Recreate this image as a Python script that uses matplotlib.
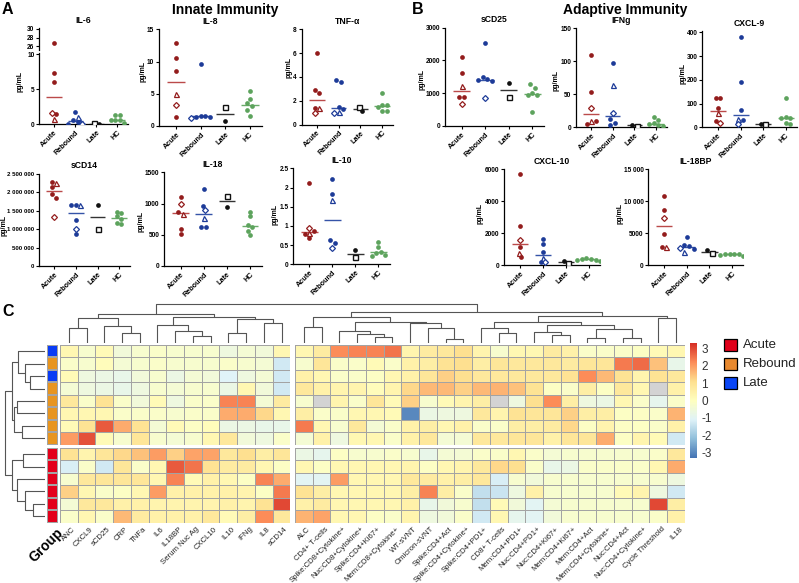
import numpy as np
import matplotlib
matplotlib.use("Agg")
import matplotlib.pyplot as plt
import matplotlib.ticker as mticker
from matplotlib.colors import LinearSegmentedColormap, ListedColormap
from matplotlib.patches import Rectangle

plt.rcParams['font.family'] = ['Liberation Sans', 'DejaVu Sans']

# ------------------------------------------------------------------ data
GROUPS = ["Acute", "Rebound", "Late", "HC"]
# shape codes: o filled circle, d open diamond, t open triangle, s open square

IL6 = {"Acute": [26.7, 7.35, 6.1, 1.57, 1.45, 0.75], "Rebound": [1.7, 1.1, 0.6, 0.35, 0.1, 0.08],
       "Late": [0.12, 0.1], "HC": [1.3, 1.3, 0.65, 0.6, 0.6, 0.2]}
IL6_SHAPES = {"Acute": "ooodot", "Rebound": "otoodo", "Late": "so", "HC": "oooooo"}

IL8 = {"Acute": [12.8, 10.5, 8.6, 4.9, 3.25, 1.45], "Rebound": [9.55, 1.55, 1.5, 1.45, 1.4, 1.25],
       "Late": [3.0, 0.8], "HC": [5.4, 4.2, 3.5, 3.1, 2.5, 1.6]}
IL8_SHAPES = {"Acute": "oootdo", "Rebound": "oooood", "Late": "so", "HC": "oooooo"}

TNFA = {"Acute": [5.98, 2.9, 2.67, 1.38, 1.36, 1.0], "Rebound": [3.7, 3.6, 1.5, 1.3, 1.05, 1.0],
        "Late": [1.45, 1.1], "HC": [2.65, 1.65, 1.6, 1.5, 1.15, 1.1]}
TNFA_SHAPES = {"Acute": "ooootd", "Rebound": "ooootd", "Late": "so", "HC": "oooooo"}

SCD14 = {"Acute": [2280000, 2260000, 2150000, 1950000, 1850000, 1340000],
         "Rebound": [1650000, 1650000, 1650000, 1240000, 1000000, 870000],
         "Late": [1650000, 1000000], "HC": [1480000, 1450000, 1350000, 1280000, 1180000, 1150000]}
SCD14_SHAPES = {"Acute": "otoood", "Rebound": "otoodo", "Late": "os", "HC": "oooooo"}

IL18 = {"Acute": [1110, 995, 870, 830, 600, 520], "Rebound": [1225, 960, 900, 770, 620, 620],
        "Late": [1120, 950], "HC": [870, 800, 660, 620, 560, 500]}
IL18_SHAPES = {"Acute": "odotoo", "Rebound": "oodtoo", "Late": "so", "HC": "oooooo"}

IL10 = {"Acute": [2.12, 0.95, 0.87, 0.81, 0.78, 0.68], "Rebound": [2.22, 1.82, 1.67, 0.63, 0.56, 0.42],
        "Late": [0.38, 0.18], "HC": [0.57, 0.44, 0.33, 0.30, 0.25, 0.22]}
IL10_SHAPES = {"Acute": "odotoo", "Rebound": "ootood", "Late": "os", "HC": "oooooo"}

SCD25 = {"Acute": [2094, 1616, 1229, 880, 870, 680], "Rebound": [2520, 1500, 1430, 1400, 1380, 860],
         "Late": [1300, 893], "HC": [1280, 1170, 1000, 960, 950, 440]}
SCD25_SHAPES = {"Acute": "ootood", "Rebound": "oooood", "Late": "os", "HC": "oooooo"}

IFNG = {"Acute": [109.5, 53, 30, 10, 9, 5], "Rebound": [97, 64, 21, 12, 7, 3.5],
        "Late": [2, 3.5], "HC": [15, 11, 6, 4.5, 3, 2]}
IFNG_SHAPES = {"Acute": "oodtoo", "Rebound": "otdooo", "Late": "so", "HC": "oooooo"}

CXCL9 = {"Acute": [122, 122, 80, 59, 28, 17], "Rebound": [379, 189, 72, 35, 30, 13],
         "Late": [12, 13], "HC": [125, 42, 40, 38, 20, 15]}
CXCL9_SHAPES = {"Acute": "oootod", "Rebound": "oootod", "Late": "so", "HC": "oooooo"}

CXCL10 = {"Acute": [5690, 2456, 1581, 1125, 790, 520], "Rebound": [1650, 1300, 800, 480, 220, 200],
          "Late": [130, 290], "HC": [450, 420, 400, 350, 300, 280]}
CXCL10_SHAPES = {"Acute": "oodoto", "Rebound": "oootdo", "Late": "so", "HC": "oooooo"}

IL18BP = {"Acute": [10830, 8640, 7440, 4890, 2810, 2810], "Rebound": [4470, 3200, 3000, 2700, 2550, 2100],
          "Late": [1875, 2390], "HC": [1800, 1750, 1750, 1700, 1650, 1400]}
IL18BP_SHAPES = {"Acute": "oodoot", "Rebound": "ooodot", "Late": "so", "HC": "oooooo"}

# heatmap
HM_COLS_LEFT = ["ANC", "CXCL9", "sCD25", "CRP", "TNFa", "IL6", "IL18BP", "Serum Nuc Ag",
                "CXCL10", "IL10", "IFNg", "IL8", "sCD14"]
HM_COLS_RIGHT = ["ALC", "CD4+ T-cells", "Spike:CD8+Cytokine+", "Nuc:CD8+Cytokine+", "Spike:CD4+Ki67+",
                 "Mem:CD8+Cytokine+", "WT-sVNT", "Omicron-sVNT", "Spike:CD4+Act", "Spike:CD4+Cytokine+",
                 "Spike:CD4+PD1+", "CD8+ T-cells", "Mem:CD4+PD1+", "Nuc:CD4+PD1+", "Nuc:CD4+Ki67+",
                 "Mem:CD4+Ki67+", "Mem:CD4+Act", "Mem:CD4+Cytokine+", "Nuc:CD4+Act", "Nuc:CD4+Cytokine+",
                 "Cycle Threshold", "IL18"]
ROW_GROUPS = ["Late", "Rebound", "Late", "Rebound", "Rebound", "Rebound", "Rebound", "Rebound",
              "Acute", "Acute", "Acute", "Acute", "Acute", "Acute"]
nan = np.nan
HM_LEFT = [
    [0.3, -0.3, 0.2, -0.5, -0.3, -0.2, -0.3, -0.3, -0.3, -0.6, -0.4, -0.5, 0.3],
    [-0.2, -0.3, 0.1, -0.4, -0.3, -0.2, -0.3, -0.3, -0.3, -0.2, -0.3, -0.4, -1.3],
    [0.2, -0.6, -0.7, -0.8, -0.5, -0.3, -0.7, -0.4, -0.5, -1.1, -0.6, -0.4, -1.3],
    [-0.4, -0.6, -0.7, -0.8, -0.6, -0.3, -0.4, -0.3, -0.3, -0.7, 0.3, -0.5, -1.3],
    [0.8, -0.2, 1.0, -0.2, -0.5, 0.2, -0.6, -0.2, -0.2, 2.3, 2.3, -0.4, 0.7],
    [0.3, 0.3, 0.3, -0.2, -0.2, -0.2, -0.3, -0.2, -0.2, 1.8, 1.8, 1.2, 0.3],
    [0.2, 1.0, 2.8, 1.8, 1.0, -0.4, 0.2, -0.1, 0.1, -0.7, -0.7, -0.8, -0.8],
    [2.0, 2.9, 0.2, -0.3, 0.9, -0.3, -0.4, -0.3, 0.3, 0.8, -0.5, -0.6, -0.2],
    [1.0, 0.4, 0.9, 1.2, 1.5, 2.0, 1.3, 1.9, 1.9, 0.8, 1.1, 0.6, 0.9],
    [-1.2, -0.2, -1.3, 0.9, -0.2, 0.3, 2.8, 2.5, 1.0, 0.7, 0.7, 0.3, -0.1],
    [-0.3, 0.8, 0.9, 0.9, 0.9, 0.3, 2.3, 0.2, 0.5, 0.3, -0.1, 2.3, 1.8],
    [1.3, 0.3, -0.2, -0.1, 0.3, 2.0, 0.5, 0.5, 0.5, 0.5, 0.4, -0.1, 2.4],
    [-0.4, 0.8, 0.8, 0.5, 0.5, 0.4, 0.4, 0.4, 0.4, 0.5, 0.4, 1.0, 3.0],
    [-0.2, 0.3, -0.2, 1.6, 0.7, 0.5, 0.5, 0.5, 0.8, 0.2, 0.6, 2.2, 0.8],
]
HM_RIGHT = [
    [0.3, 0.7, 2.2, 2.3, 2.3, 2.5, 0.4, 0.7, 0.8, 1.1, 0.4, -0.3, 0.3, 0.3, 0.7, 0.5, -0.2, -0.2, -0.2, -0.1, 0.2, 0.3],
    [-0.3, 0.9, -0.2, -0.2, 0.2, -0.2, 0.5, 0.6, 1.0, 1.1, 0.6, 0.9, 0.8, 0.8, 0.8, 0.7, 0.9, 0.9, 2.4, 2.6, 1.5, -0.8],
    [0.5, 0.3, -0.2, -0.2, -0.1, 0.3, 0.5, 0.9, 1.3, 1.1, 0.8, 0.8, 0.8, 0.8, 0.8, 1.0, 2.2, 1.6, 1.0, 0.4, 1.0, 0.8],
    [0.8, 0.5, 0.4, 0.4, 0.1, 0.4, 1.2, 1.6, 1.6, 1.3, 1.6, 1.7, 1.5, 1.0, -0.1, -0.2, 0.6, -0.1, 0.8, 0.3, nan, 0.5],
    [-0.3, nan, 0.4, -0.2, 0.9, 0.2, 1.3, -0.3, 0.2, 0.4, 0.6, nan, -0.6, 1.1, 2.2, 0.6, -0.6, -0.7, 0.3, -0.2, -0.9, -0.2],
    [0.6, -0.2, -0.2, 0.3, 0.3, 0.2, -3.0, -0.7, -0.6, -0.6, 0.8, 0.4, 1.0, 0.9, 0.9, 1.3, 0.6, 0.6, -0.1, -0.1, -0.2, 1.7],
    [2.4, 0.3, -0.3, 0.8, -0.4, -0.2, 0.5, 0.6, 0.3, 0.5, -0.2, -0.2, 0.6, 0.6, 0.7, 1.2, -0.1, 0.4, -0.1, -0.1, -0.2, 0.5],
    [-0.4, 0.5, -0.6, 0.3, 0.3, -0.2, 0.5, 0.8, -0.4, -0.4, 0.8, 0.8, 0.9, 0.9, 0.5, 0.9, 0.9, 1.8, -0.1, 0.4, 0.2, -1.3],
    [-0.7, -0.9, -0.1, -0.3, -0.3, -0.2, -0.3, -0.8, -0.4, -0.4, -0.2, -0.2, 0.3, -0.2, -0.4, -0.3, -0.3, -0.3, -0.3, -0.3, -0.2, 0.8],
    [0.3, -0.1, 0.3, 0.3, 0.3, 0.3, 0.4, -0.1, 0.3, 0.4, 0.8, 1.2, 1.1, -0.2, -0.8, -0.7, -0.2, -0.2, -0.2, -0.2, 0.3, 1.8],
    [-1.0, -1.0, 2.0, 0.3, 0.3, 0.3, 0.8, 0.7, 0.5, 0.6, 0.8, -1.2, -0.3, -0.5, -0.3, -0.3, -0.3, -0.3, -0.3, -0.3, -0.3, -0.6],
    [1.0, 0.6, 0.3, 0.3, 0.3, 0.3, 0.6, 2.3, 0.6, -0.2, -1.5, -1.4, -0.6, 0.5, -0.3, -0.3, -0.3, -0.3, 0.2, 0.4, -0.6, -1.3],
    [0.5, 0.7, 0.3, 0.3, 0.3, 0.3, 0.5, -0.8, -0.5, -0.3, -1.5, 0.2, -0.5, -1.0, -0.4, -0.3, -0.3, -0.3, -0.3, -0.3, 3.0, 0.6],
    [1.7, 1.9, 0.3, 0.3, -0.1, -0.2, 0.4, -0.6, -0.5, -0.2, -1.3, 0.3, -0.9, -1.0, -0.5, -0.3, -0.3, -0.3, -0.3, -0.3, -0.2, 0.5],
]
# dendrogram merges: (node a, node b, merge height); leaves are 0..n-1, merge k creates node n+k
COL_MERGES = [
    (0, 1, 14.7), (3, 4, 10.3), (2, 36, 17.0), (35, 37, 24.7),
    (7, 8, 7.0), (6, 39, 12.3), (5, 40, 18.0),
    (9, 10, 10.3), (11, 12, 19.7), (42, 43, 23.7),
    (41, 44, 25.7), (38, 45, 29.0),
    (13, 14, 15.7), (17, 18, 5.7), (16, 48, 8.7), (15, 49, 12.0),
    (21, 22, 3.7), (20, 51, 14.7), (19, 52, 19.7), (50, 53, 20.7), (47, 54, 25.7),
    (24, 25, 10.3), (23, 56, 14.7), (27, 28, 8.0), (26, 58, 11.3),
    (29, 30, 4.7), (31, 32, 5.3), (60, 61, 13.7), (59, 62, 18.0), (57, 63, 21.3),
    (33, 34, 24.7), (64, 65, 27.0), (55, 66, 31.3),
    (46, 67, 39.0),
]
ROW_MERGES = [
    (2, 3, 15), (1, 14, 20), (0, 15, 27), (4, 5, 28), (6, 7, 23), (17, 18, 31), (16, 19, 33.3),
    (12, 13, 12), (11, 21, 20), (10, 22, 28), (8, 9, 22), (24, 23, 33), (20, 25, 40),
]

# ------------------------------------------------------------------ style
W, H = 799.0, 583.0
fig = plt.figure(figsize=(W / 100, H / 100), dpi=100)


def rect(l, t, r, b):
    return [l / W, 1 - b / H, (r - l) / W, (b - t) / H]


PT_COL = {"Acute": "#931c1c", "Rebound": "#1d3b98", "Late": "#111111", "HC": "#5da35d"}
MED_COL = {"Acute": "#bb4a4a", "Rebound": "#3553a8", "Late": "#333333", "HC": "#6aab6a"}
TICK_FS = 4.7
LABELS = []  # (axis, left px, right px, bottom px, top px, wanted label x, wanted label y)


def fmt_num(v, pos=None):
    if abs(v - round(v)) < 1e-9:
        v = int(round(v))
        if v >= 10000:
            return "{:,}".format(v).replace(",", " ")
        return str(v)
    return "{:.1f}".format(v)


def swarm(ypx, diam):
    n = len(ypx)
    order = np.argsort(-ypx)
    offs = np.zeros(n)
    placed = []
    cands = [0.0]
    for k in range(1, 14):
        cands += [k * 0.5 * diam, -k * 0.5 * diam]
    for i in order:
        for c in cands:
            ok = all((c - offs[j]) ** 2 + (ypx[i] - ypx[j]) ** 2 >= (0.95 * diam) ** 2 for j in placed)
            if ok:
                offs[i] = c
                break
        placed.append(i)
    srt = np.argsort(-ypx)
    clusters, cur = [], [srt[0]]
    for a, b in zip(srt[:-1], srt[1:]):
        if ypx[a] - ypx[b] < 0.95 * diam:
            cur.append(b)
        else:
            clusters.append(cur)
            cur = [b]
    clusters.append(cur)
    for cl in clusters:
        m = (offs[cl].max() + offs[cl].min()) / 2
        offs[cl] -= m
    return offs


def style_axes(ax, fs=TICK_FS):
    for s in ("top", "right"):
        ax.spines[s].set_visible(False)
    for s in ("left", "bottom"):
        ax.spines[s].set_linewidth(0.9)
    ax.tick_params(axis="both", length=2.5, width=0.8, pad=1.0)
    ax.tick_params(axis="y", labelsize=fs)
    for lab in ax.get_yticklabels():
        lab.set_fontweight("bold")


def draw_points(axes_list, data, shapes, to_px, px_per_x, xlo=-0.7, xhi=3.5):
    for gi, g in enumerate(GROUPS):
        vals = np.array(data[g], float)
        ypx = np.array([to_px(v) for v in vals])
        offs = swarm(ypx, 4.6) / px_per_x
        col = PT_COL[g]
        med = np.median(vals)
        for ax in axes_list:
            for v, s, o in zip(vals, shapes[g], offs):
                kw = dict(color=col, clip_on=True, zorder=4, linestyle="none")
                if s == "o":
                    ax.plot(gi + o, v, marker="o", ms=3.4, mew=0, **kw)
                elif s == "d":
                    ax.plot(gi + o, v, marker="D", ms=3.0, mfc="white", mew=0.9, **kw)
                elif s == "t":
                    ax.plot(gi + o, v, marker="^", ms=3.6, mfc="white", mew=0.9, **kw)
                elif s == "s":
                    ax.plot(gi + o, v, marker="s", ms=3.6, mfc="white", mew=1.0, **kw)
            ax.plot([gi - 0.36, gi + 0.36], [med, med], color=MED_COL[g], lw=1.0, zorder=3,
                    solid_capstyle="butt")
        for ax in axes_list:
            ax.set_xlim(xlo, xhi)


def set_xcats(ax):
    ax.set_xticks(range(len(GROUPS)))
    ax.set_xticklabels(GROUPS, rotation=45, ha="right", rotation_mode="anchor", fontsize=5.2,
                       fontweight="bold")


def scatter_panel(title, data, shapes, l, r, y0, ytop, ymax, yticks, lab_x, lab_y, fs=TICK_FS):
    ax = fig.add_axes(rect(l, ytop, r, y0))
    ax.set_ylim(0, ymax)
    ppy = (y0 - ytop) / ymax
    ppx = (r - l) / 4.2
    draw_points([ax], data, shapes, lambda v: v * ppy, ppx)
    ax.set_yticks(yticks)
    ax.yaxis.set_major_formatter(mticker.FuncFormatter(fmt_num))
    set_xcats(ax)
    style_axes(ax, fs)
    ax.set_ylabel("pg/mL", fontsize=5.0, fontweight="bold", va="center")
    LABELS.append((ax, l, r, y0, ytop, lab_x, lab_y))
    ax.set_title(title, fontsize=6.2, fontweight="bold", pad=4)
    return ax


# ---- IL-6 with broken axis
l, r = 39.3, 128
ax_lo = fig.add_axes(rect(l, 52.5, r, 124.3))
ax_hi = fig.add_axes(rect(l, 28.3, r, 49.5))
ax_lo.set_ylim(0, 10.26)
ax_hi.set_ylim(25.3, 30.1)
ppx6 = (r - l) / 4.2


def il6_px(v):
    return v * 7.0 if v <= 10.26 else 75.8 + (v - 25.3) * 4.5


draw_points([ax_lo, ax_hi], IL6, IL6_SHAPES, il6_px, ppx6)
ax_lo.set_yticks([0, 5, 10])
ax_hi.set_yticks([26, 28, 30])
for a in (ax_lo, ax_hi):
    a.yaxis.set_major_formatter(mticker.FuncFormatter(fmt_num))
set_xcats(ax_lo)
style_axes(ax_lo)
style_axes(ax_hi)
ax_hi.spines["bottom"].set_visible(False)
ax_hi.set_xticks([])
ax_lo.set_ylabel("pg/mL", fontsize=5.0, fontweight="bold", va="center")
LABELS.append((ax_lo, l, r, 124.3, 52.5, 20.5, 81.5))
ax_hi.set_title("IL-6", fontsize=6.2, fontweight="bold", pad=4)

scatter_panel("IL-8", IL8, IL8_SHAPES, 159, 262, 126, 29.3, 15, [0, 5, 10, 15], 147.5, 71.5)
scatter_panel("TNF-α", TNFA, TNFA_SHAPES, 301.7, 393, 124.5, 29.3, 8, [0, 2, 4, 6, 8], 294.5, 68)
scatter_panel("sCD14", SCD14, SCD14_SHAPES, 39, 130, 266, 174, 2500000,
              [0, 500000, 1000000, 1500000, 2000000, 2500000], 5.5, 225, fs=4.4)
scatter_panel("IL-18", IL18, IL18_SHAPES, 164.3, 261.7, 266, 172.3, 1500, [0, 500, 1000, 1500], 145, 221)
scatter_panel("IL-10", IL10, IL10_SHAPES, 293.3, 390, 264.3, 168.3, 2.5, [0, 0.5, 1.0, 1.5, 2.0, 2.5],
              281.5, 214.5)
scatter_panel("sCD25", SCD25, SCD25_SHAPES, 445, 544, 126, 27.7, 3000, [0, 1000, 2000, 3000], 428.5, 79)
scatter_panel("IFNg", IFNG, IFNG_SHAPES, 576, 666.7, 127.3, 28.3, 150, [0, 50, 100, 150], 562, 80)
scatter_panel("CXCL-9", CXCL9, CXCL9_SHAPES, 702.3, 797, 127.3, 31.1, 405, [0, 100, 200, 300, 400],
              684.5, 73)
scatter_panel("CXCL-10", CXCL10, CXCL10_SHAPES, 504.3, 600, 265.3, 169.3, 6000, [0, 2000, 4000, 6000],
              480.5, 214)
scatter_panel("IL-18BP", IL18BP, IL18BP_SHAPES, 648.3, 743.3, 265.3, 169.3, 15000,
              [0, 5000, 10000, 15000], 621, 214)


def ftext(x, y, s, **kw):
    fig.text(x / W, 1 - y / H, s, **kw)


ftext(2, 10, "A", fontsize=11.5, fontweight="bold", va="center", ha="left")
ftext(225, 10, "Innate Immunity", fontsize=10, fontweight="bold", va="center", ha="center")
ftext(412, 10, "B", fontsize=11.5, fontweight="bold", va="center", ha="left")
ftext(625, 10, "Adaptive Immunity", fontsize=10, fontweight="bold", va="center", ha="center")
ftext(2, 311, "C", fontsize=11.5, fontweight="bold", va="center", ha="left")

# ------------------------------------------------------------------ heatmap
cmap = LinearSegmentedColormap.from_list(
    "rdylbu", ["#4575B4", "#91BFDB", "#E0F3F8", "#FFFFBF", "#FEE090", "#FC8D59", "#D73027"])
cmap.set_bad("#d3d3d3")
VMIN, VMAX = -3.3, 3.3

CW = 17.72
XL0 = 60.0
XR0 = XL0 + 13 * CW + 4.6
RH = 12.45
YT0 = 345.0
YB0 = YT0 + 8 * RH + 3.3
nL, nR = len(HM_COLS_LEFT), len(HM_COLS_RIGHT)
M_L = np.array(HM_LEFT, float)
M_R = np.array(HM_RIGHT, float)
GRID = "#a3a3a3"

blocks = [(XL0, nL, M_L), (XR0, nR, M_R)]
rows = [(YT0, 0, 8), (YB0, 8, 14)]
for x0, nc, M in blocks:
    for y0, r0, r1 in rows:
        ax = fig.add_axes(rect(x0, y0, x0 + nc * CW, y0 + (r1 - r0) * RH))
        ax.pcolormesh(np.ma.masked_invalid(M[r0:r1]), cmap=cmap, vmin=VMIN, vmax=VMAX,
                      edgecolors=GRID, linewidth=0.5)
        ax.set_ylim(r1 - r0, 0)
        ax.set_xlim(0, nc)
        ax.axis("off")

ANN_COL = {"Acute": "#E3001B", "Rebound": "#E8951F", "Late": "#0A3CF5"}
ann_cmap = ListedColormap([ANN_COL["Acute"], ANN_COL["Rebound"], ANN_COL["Late"]])
gidx = np.array([["Acute", "Rebound", "Late"].index(g) for g in ROW_GROUPS])[:, None]
for y0, r0, r1 in rows:
    ax = fig.add_axes(rect(47, y0, 57.5, y0 + (r1 - r0) * RH))
    ax.pcolormesh(gidx[r0:r1], cmap=ann_cmap, vmin=-0.5, vmax=2.5, edgecolors=GRID, linewidth=0.3)
    ax.set_ylim(r1 - r0, 0)
    ax.axis("off")

col_centers = [XL0 + (i + 0.5) * CW for i in range(nL)] + [XR0 + (i + 0.5) * CW for i in range(nR)]
for xc, lab in zip(col_centers, HM_COLS_LEFT + HM_COLS_RIGHT):
    ftext(xc + 3, 525.5, lab, fontsize=5.6, rotation=45, ha="right", va="top",
          rotation_mode="anchor", color="#222222")
ftext(56, 526, "Group", fontsize=10, fontweight="bold", rotation=45, ha="right", va="top",
      rotation_mode="anchor")


def dendro_segments(leaf_pos, merges):
    pos = list(leaf_pos)
    hgt = [0.0] * len(leaf_pos)
    segs = []
    for a, b, h in merges:
        segs.append(([pos[a], pos[a], pos[b], pos[b]], [hgt[a], h, h, hgt[b]]))
        pos.append((pos[a] + pos[b]) / 2)
        hgt.append(h)
    return segs


axd = fig.add_axes(rect(XL0, 300, XR0 + nR * CW, 343))
for xs, hs in dendro_segments(col_centers, COL_MERGES):
    axd.plot(xs, hs, color="#555555", lw=0.8, solid_capstyle="butt")
axd.set_xlim(XL0, XR0 + nR * CW)
axd.set_ylim(0, 43)
axd.axis("off")

row_centers = [YT0 + (i + 0.5) * RH for i in range(8)] + [YB0 + (i + 0.5) * RH for i in range(6)]
axr = fig.add_axes(rect(1, YT0, 45, YB0 + 6 * RH))
for ys, hs in dendro_segments(row_centers, ROW_MERGES):
    axr.plot(hs, ys, color="#555555", lw=0.8, solid_capstyle="butt")
axr.set_xlim(44, 0)
axr.set_ylim(YB0 + 6 * RH, YT0)
axr.axis("off")

axc = fig.add_axes(rect(690, 343, 697, 458))
grad = np.linspace(VMIN, VMAX, 200)[:, None]
axc.imshow(grad, cmap=cmap, vmin=VMIN, vmax=VMAX, aspect="auto", origin="lower",
           extent=[0, 1, VMIN, VMAX])
axc.set_xticks([])
axc.yaxis.tick_right()
axc.set_yticks([-3, -2, -1, 0, 1, 2, 3])
axc.set_yticklabels(["-3", "-2", "-1", "0", "1", "2", "3"])
axc.tick_params(axis="y", length=0, labelsize=8.5, pad=3, labelcolor="#333333")
for s in axc.spines.values():
    s.set_visible(False)

ov = fig.add_axes([0, 0, 1, 1])
ov.set_xlim(0, W)
ov.set_ylim(H, 0)
ov.axis("off")
LEG_COL = {"Acute": "#E0001A", "Rebound": "#E8892E", "Late": "#0A46F5"}
for i, g in enumerate(["Acute", "Rebound", "Late"]):
    yc = 345 + i * 19
    ov.add_patch(Rectangle((724, yc - 6), 13, 12, facecolor=LEG_COL[g], edgecolor="black", lw=0.9))
    ov.text(743, yc, g, fontsize=9.5, va="center", ha="left", color="#222222")

# place the pg/mL labels as in the reference, but never over the tick labels
fig.canvas.draw()
renderer = fig.canvas.get_renderer()
for ax, l, r, y0, ytop, lab_x, lab_y in LABELS:
    ext = [t.get_window_extent(renderer) for t in ax.get_yticklabels() if t.get_text()]
    x_min = min(e.x0 for e in ext)
    lx = max(min(lab_x, x_min - 3.9), 3.9)
    ax.yaxis.set_label_coords((lx - l) / (r - l), (y0 - lab_y) / (y0 - ytop))

fig.savefig("out.png", dpi=100)
